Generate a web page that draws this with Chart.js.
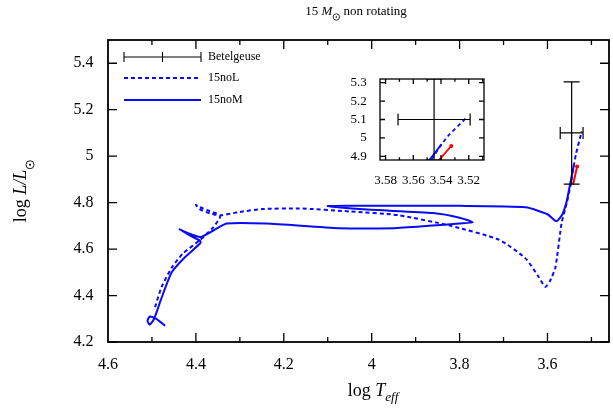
<!DOCTYPE html>
<html>
<head>
<meta charset="utf-8">
<script src="https://cdn.jsdelivr.net/npm/chart.js@4"></script>
<style>
  body { margin: 0; background: #fff; }
  #wrap { position: relative; width: 613px; height: 414px; }
  #main { position: absolute; left: 0; top: 0; }
  #inset { position: absolute; left: 330px; top: 66px; }
</style>
</head>
<body>
<div id="wrap">
  <canvas id="main" width="613" height="414"></canvas>
  <canvas id="inset" width="160" height="126"></canvas>
</div>
<script>
// track 15noL (dashed)
const noL_T = [4.493, 4.478, 4.455, 4.43, 4.39, 4.362, 4.346, 4.345, 4.37, 4.39, 4.40, 4.39, 4.365, 4.345,
  4.30, 4.25, 4.165, 4.05, 3.94, 3.82, 3.71, 3.65, 3.62, 3.605, 3.595, 3.582, 3.568, 3.556, 3.548, 3.541, 3.535, 3.522];
const noL_L = [4.35, 4.437, 4.52, 4.58, 4.64, 4.69, 4.733, 4.745, 4.765, 4.78, 4.79, 4.77, 4.752, 4.745,
  4.76, 4.772, 4.775, 4.762, 4.746, 4.70, 4.64, 4.56, 4.48, 4.437, 4.46, 4.52, 4.71, 4.80, 4.87, 4.95, 5.01, 5.107];
// track 15noM (solid)
const noM_T = [4.47, 4.49, 4.505, 4.51, 4.505, 4.495, 4.48, 4.455, 4.425, 4.39, 4.39, 4.41, 4.437, 4.42, 4.39,
  4.36, 4.33, 4.24, 4.074, 3.95, 3.87, 3.80, 3.77, 3.80, 3.86, 4.01, 4.10, 4.05, 3.80, 3.65, 3.60, 3.58,
  3.566, 3.557, 3.5515, 3.5397];
const noM_L = [4.27, 4.30, 4.31, 4.29, 4.275, 4.30, 4.38, 4.50, 4.565, 4.625, 4.635, 4.655, 4.685, 4.67, 4.652,
  4.68, 4.71, 4.71, 4.69, 4.69, 4.70, 4.71, 4.715, 4.735, 4.755, 4.77, 4.785, 4.786, 4.786, 4.78, 4.75, 4.72,
  4.75, 4.80, 4.85, 4.965];
// final segment (red)
const end_T = [3.5416, 3.5326];
const end_L = [4.878, 4.956];
// Betelgeuse
const betT = 3.545, betTerr = 0.026, betL = 5.10, betLerr = 0.22;

const mainXTicks = [4.6, 4.4, 4.2, 4.0, 3.8, 3.6];
const mainYTicks = [4.2, 4.4, 4.6, 4.8, 5.0, 5.2, 5.4];
const insetXTicks = [3.58, 3.56, 3.54, 3.52];
const insetYTicks = [4.9, 5.0, 5.1, 5.2, 5.3];

const BLUE = "rgb(10,10,245)";
const SERIF = "'Liberation Serif', 'DejaVu Serif', serif";
const pts = (xs, ys) => xs.map((x, i) => ({ x, y: ys[i] }));

function datasets(lw) {
  return [
    { data: pts(noL_T, noL_L), borderColor: BLUE, borderWidth: lw, borderDash: [4, 3], pointRadius: 0, showLine: true, tension: 0.2 },
    { data: pts(noM_T, noM_L), borderColor: BLUE, borderWidth: lw, pointRadius: 0, showLine: true, tension: 0.2 },
    { data: pts(end_T, end_L), borderColor: "red", borderWidth: lw, pointRadius: [0, 2], pointBackgroundColor: "red", pointBorderWidth: 0, showLine: true },
  ];
}

// frame, inward ticks, error bar
function framePlugin(opts) {
  return {
    id: "frame",
    afterDatasetsDraw(chart) {
      const { ctx, chartArea: a, scales: { x, y } } = chart;
      ctx.save();
      ctx.strokeStyle = "#000";
      ctx.lineWidth = 1.2;
      const cx = x.getPixelForValue(betT), cy = y.getPixelForValue(betL);
      const x0 = x.getPixelForValue(betT + betTerr), x1 = x.getPixelForValue(betT - betTerr);
      const y0 = y.getPixelForValue(betL + betLerr), y1 = y.getPixelForValue(betL - betLerr);
      ctx.beginPath();
      ctx.rect(a.left, a.top, a.right - a.left, a.bottom - a.top);
      ctx.clip();
      ctx.beginPath();
      ctx.moveTo(x0, cy); ctx.lineTo(x1, cy);
      ctx.moveTo(cx, y0); ctx.lineTo(cx, y1);
      ctx.moveTo(x0, cy - 6); ctx.lineTo(x0, cy + 6);
      ctx.moveTo(x1, cy - 6); ctx.lineTo(x1, cy + 6);
      ctx.moveTo(cx - 8, y0); ctx.lineTo(cx + 8, y0);
      ctx.moveTo(cx - 8, y1); ctx.lineTo(cx + 8, y1);
      ctx.stroke();
      ctx.restore();
      ctx.save();
      ctx.lineWidth = opts.frameW;
      ctx.strokeRect(a.left, a.top, a.right - a.left, a.bottom - a.top);
      ctx.lineWidth = 1.3;
      ctx.beginPath();
      for (let v = opts.xMinor[0]; v >= opts.xMinor[1] - 1e-9; v -= opts.xMinor[2]) {
        const px = x.getPixelForValue(v);
        if (px < a.left + 1 || px > a.right - 1) continue;
        const major = Math.abs(Math.round(v / opts.xMajor) * opts.xMajor - v) < 1e-6;
        const len = major ? opts.tick : opts.tick * 0.55;
        ctx.moveTo(px, a.bottom); ctx.lineTo(px, a.bottom - len);
        ctx.moveTo(px, a.top); ctx.lineTo(px, a.top + len);
      }
      opts.yTicks.forEach((v) => {
        const py = y.getPixelForValue(v);
        ctx.moveTo(a.left, py); ctx.lineTo(a.left + opts.tick, py);
        ctx.moveTo(a.right, py); ctx.lineTo(a.right - opts.tick, py);
      });
      ctx.stroke();
      ctx.restore();
    },
  };
}

const textPlugin = {
  id: "texts",
  afterDraw(chart) {
    const { ctx } = chart;
    ctx.save();
    ctx.fillStyle = "#000";
    ctx.textBaseline = "alphabetic";
    // title
    const sunW = 8;
    ctx.font = `13px ${SERIF}`;
    const w1 = ctx.measureText("15 ").width;
    ctx.font = `italic 13px ${SERIF}`;
    const w2 = ctx.measureText("M").width;
    ctx.font = `13px ${SERIF}`;
    const w3 = ctx.measureText(" non rotating").width;
    let tx = 356 - (w1 + w2 + sunW + w3) / 2;
    ctx.fillText("15 ", tx, 15); tx += w1;
    ctx.font = `italic 13px ${SERIF}`; ctx.fillText("M", tx, 15); tx += w2;
    ctx.beginPath(); ctx.arc(tx + 4, 17, 3.2, 0, Math.PI * 2); ctx.lineWidth = 0.8; ctx.stroke();
    ctx.beginPath(); ctx.arc(tx + 4, 17, 0.8, 0, Math.PI * 2); ctx.fill();
    tx += sunW;
    ctx.font = `13px ${SERIF}`; ctx.fillText(" non rotating", tx, 15);

    // x title
    ctx.font = `18px ${SERIF}`;
    const a1 = ctx.measureText("log ").width;
    ctx.font = `italic 18px ${SERIF}`;
    const a2 = ctx.measureText("T").width;
    ctx.font = `italic 13px ${SERIF}`;
    const a3 = ctx.measureText("eff").width;
    let xx = 373 - (a1 + a2 + a3) / 2;
    ctx.font = `18px ${SERIF}`; ctx.fillText("log ", xx, 396); xx += a1;
    ctx.font = `italic 18px ${SERIF}`; ctx.fillText("T", xx, 396); xx += a2;
    ctx.font = `italic 13px ${SERIF}`; ctx.fillText("eff", xx, 401);

    // y title
    ctx.translate(26, 191);
    ctx.rotate(-Math.PI / 2);
    ctx.font = `18px ${SERIF}`;
    const b1 = ctx.measureText("log ").width;
    ctx.font = `italic 18px ${SERIF}`;
    const b2 = ctx.measureText("L/L").width;
    let yx = -(b1 + b2 + 10) / 2;
    ctx.font = `18px ${SERIF}`; ctx.fillText("log ", yx, 0); yx += b1;
    ctx.font = `italic 18px ${SERIF}`; ctx.fillText("L/L", yx, 0); yx += b2;
    ctx.beginPath(); ctx.arc(yx + 5, 4, 4, 0, Math.PI * 2); ctx.lineWidth = 0.9; ctx.stroke();
    ctx.beginPath(); ctx.arc(yx + 5, 4, 1, 0, Math.PI * 2); ctx.fill();
    ctx.restore();

    // legend
    ctx.save();
    ctx.font = `12px ${SERIF}`;
    ctx.textBaseline = "middle";
    const lx0 = 124, lx1 = 201;
    ctx.strokeStyle = "#000"; ctx.lineWidth = 1.1;
    ctx.beginPath();
    ctx.moveTo(lx0, 57); ctx.lineTo(lx1, 57);
    ctx.moveTo(lx0, 52); ctx.lineTo(lx0, 62);
    ctx.moveTo(lx1, 52); ctx.lineTo(lx1, 62);
    ctx.moveTo((lx0 + lx1) / 2, 52); ctx.lineTo((lx0 + lx1) / 2, 62);
    ctx.stroke();
    ctx.strokeStyle = BLUE; ctx.lineWidth = 2;
    ctx.setLineDash([4, 3]);
    ctx.beginPath(); ctx.moveTo(lx0, 78); ctx.lineTo(lx1, 78); ctx.stroke();
    ctx.setLineDash([]);
    ctx.beginPath(); ctx.moveTo(lx0, 100); ctx.lineTo(lx1, 100); ctx.stroke();
    ctx.fillStyle = "#000";
    ctx.fillText("Betelgeuse", 208, 57);
    ctx.fillText("15noL", 208, 78);
    ctx.fillText("15noM", 208, 100);
    ctx.restore();
  },
};

function axes(xr, yr, xt, yt, fs, leftW, bottomH, dec) {
  const tickOpts = () => ({
    font: { family: SERIF, size: fs },
    color: "#000",
    autoSkip: false,
    maxRotation: 0,
    callback: (v) => Number(v.toFixed(dec)).toString(),
  });
  return {
    x: {
      type: "linear", reverse: true, min: xr[0], max: xr[1],
      afterBuildTicks: (s) => { s.ticks = xt.map((v) => ({ value: v })); },
      afterFit: (s) => { s.height = bottomH; },
      grid: { display: false }, border: { display: false },
      ticks: { ...tickOpts(), padding: fs * 0.35 },
    },
    y: {
      type: "linear", min: yr[0], max: yr[1],
      afterBuildTicks: (s) => { s.ticks = yt.map((v) => ({ value: v })); },
      afterFit: (s) => { s.width = leftW; },
      grid: { display: false }, border: { display: false },
      ticks: { ...tickOpts(), padding: fs * 0.4 },
    },
  };
}

new Chart(document.getElementById("main"), {
  type: "scatter",
  data: { datasets: datasets(2) },
  options: {
    responsive: false, animation: false, events: [],
    layout: { padding: { top: 40, right: 3, left: 0, bottom: 0 } },
    plugins: { legend: { display: false }, tooltip: { enabled: false } },
    scales: axes([3.46, 4.6], [4.2, 5.5], mainXTicks, mainYTicks, 16, 108, 72, 1),
  },
  plugins: [framePlugin({ frameW: 1.8, tick: 9, xMajor: 0.2, xMinor: [4.6, 3.46, 0.1], yTicks: mainYTicks }), textPlugin],
});

new Chart(document.getElementById("inset"), {
  type: "scatter",
  data: { datasets: datasets(1.8) },
  options: {
    responsive: false, animation: false, events: [],
    layout: { padding: { top: 5, right: 6, left: 0, bottom: 0 } },
    plugins: { legend: { display: false }, tooltip: { enabled: false } },
    scales: axes([3.509, 3.584], [4.88, 5.32], insetXTicks, insetYTicks, 13, 50, 32, 2),
  },
  plugins: [{ id: "bg", beforeDraw(c) { c.ctx.save(); c.ctx.fillStyle = "#fff"; c.ctx.fillRect(0, 0, c.width, c.height); c.ctx.restore(); } },
    framePlugin({ frameW: 1.3, tick: 5, xMajor: 0.02, xMinor: [3.58, 3.51, 0.01], yTicks: insetYTicks })],
});
</script>
</body>
</html>
